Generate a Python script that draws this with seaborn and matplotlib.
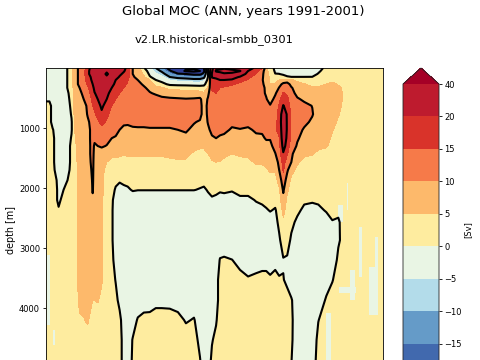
import numpy as np
import matplotlib
matplotlib.use('Agg')
import matplotlib.pyplot as plt
import seaborn as sns

sns.set_theme(style='ticks', rc={'text.color': 'black', 'axes.labelcolor': 'black',
                                 'xtick.color': 'black', 'ytick.color': 'black'})

depth = [0, 50, 100, 150, 200, 270, 330, 420, 520, 630, 770, 900, 1030, 1170, 1300, 1430, 1570, 1700,
         1870, 2030, 2200, 2370, 2570, 2870, 3200, 3530, 3870, 4200, 4530, 4870, 5500]
lat = [-90, -87.9, -86.2, -84.6, -83, -81.4, -79.3, -77.7, -76.1, -74.5, -71.8, -69.6, -67.5, -65.9, -64.8,
       -63.8, -62.1, -60, -57.3, -54.6, -52.5, -50.4, -48.2, -46.1, -43.4, -40.7, -37.5, -34.3, -31.1, -27.9,
       -23.6, -19.3, -15, -10.7, -7.5, -5.4, -3.2, -1.1, 1.1, 3.2, 5.4, 9.6, 13.9, 18.2, 22.5, 25.7, 27.9, 30,
       32.7, 34.8, 37, 39.1, 41.3, 44.5, 48.2, 52.5, 55.7, 60, 63.2, 66.4, 69.6, 72.9, 90]

# streamfunction, one list per latitude, top to bottom [Sv]
moc_columns = [
    [-2]*8 + [-1] + [2]*22,
    [-2]*8 + [-1] + [2]*22,
    [-2]*12 + [0.5] + [2]*18,
    [-2]*17 + [-1, 1] + [2]*12,
    [-2]*21 + [1] + [2]*9,
    [-2]*20 + [1] + [2]*10,
    [-2]*19 + [2]*12,
    [1.5]*7 + [0, -1] + [-2]*8 + [-1, 1] + [2]*12,
    [3]*9 + [2, 0.5, -0.5, -0.5, 0.5] + [2]*17,
    [8]*6 + [7]*4 + [6, 5.5, 5, 4.5, 4, 3.5, 3, 3] + [2]*13,
    [11]*6 + [10, 9, 8.5, 8, 8] + [7]*15 + [6, 4.5, 3, 2, 2],
    [13, 14, 14, 13, 13, 12, 12, 11, 10, 8] + [7]*16 + [6, 4.8, 3.5, 2.5, 2],
    [17, 18, 18, 18, 17, 16, 14, 13, 12, 11, 10.5, 9, 8, 8] + [7]*13 + [5.5, 3.5, 2.5, 2],
    [21, 22, 22, 20, 19, 18, 17, 15.5, 14.5, 13, 12, 11, 10.5, 10.5, 10.5, 10.5, 10, 9.5, 8] + [7]*7 + [6, 4, 3, 2.5, 2],
    [23, 24, 24, 23, 22, 20, 19, 17, 16, 15, 14, 13, 12, 12, 11, 11, 11, 11, 11, 10.5, 9, 8, 7, 7, 7, 6, 5, 4, 3, 2.5, 2],
    [24, 25, 25, 24, 23, 22, 21, 19.8, 18, 16, 14.5, 13, 12, 10.8, 9.5, 9, 8.5, 8] + [7]*7 + [6, 5, 3.5, 3, 2.5, 2],
    [25, 26, 26, 25, 24, 23, 22, 21, 20, 18, 16, 14.5, 13, 11.5, 10, 9, 8, 7.5] + [7]*7 + [6, 5.3, 3, 2.5, 2, 2],
    [26, 27, 27, 26, 25, 24, 23, 23, 22, 21, 19, 16, 14, 12, 10.5, 8, 7, 6.5, 6, 6, 6, 5.8, 5.6, 5.6, 5.6, 5.5, 4, 3, 2, 2, 2],
    [28, 29, 31, 29, 28, 25, 23, 21.5, 20, 18, 16, 14.5, 13, 11.5, 9.8, 7, 5, 3.5, 3, 2.5] + [2]*11,
    [27, 27, 27, 26, 24, 22, 20, 18, 16, 15, 13.5, 13, 11.5, 10, 8, 6, 4, 3, 2, 1.5, 0.6, 0.5, 0.5, 0.5, 1, 1.5, 2, 2, 2, 2, 2],
    [24, 24, 24, 22, 20, 18.5, 17, 16, 15, 14, 13, 12.5, 11.5, 9.5, 8, 6, 4, 2.5, 1, -0.5, -1.5, -2, -2, -2, -1.5, -0.2, 1, 2, 2, 2, 2],
    [22, 22, 21, 19.5, 18, 16.5, 15.5, 15, 14, 13.5, 13, 12, 10, 8.5, 7.5, 5.5, 4, 2.5, 0.5, -1.5, -2, -2, -2, -2, -2, -2, -1, 1, 2, 2, 2],
    [21, 20.5, 19, 18, 17, 16, 15, 14, 13.5, 13, 12, 10.8, 9, 8, 7, 5.3, 3.8, 2.5, 1, -1] + [-2]*11,
    [19, 18, 17.5, 17, 15.5, 14.5, 14, 13.5, 13, 12.5, 11.5, 10.5, 9.2, 8, 7, 5.5, 3.8, 2.5, 1, -0.5] + [-2]*11,
    [10, 10, 10, 10.5, 11, 11.5, 12, 12.5, 12.5, 12, 11, 10.8, 9.5, 8, 7, 5.5, 4, 2.5, 1, 0.3] + [-2]*7 + [-1.5, 0.2, 0.5, 2],
    [7, 7.5, 8, 9, 10, 11, 12, 12.5, 12.5, 12, 11.5, 11, 9.5, 8, 7, 5.5, 4, 2.5, 1, 0.1] + [-2]*7 + [0.3, 1.5, 2, 2],
    [0.5, 3, 4.5, 6, 8, 9.5, 10.5, 11, 11.8, 12, 12, 11, 9.5, 8, 7, 5.5, 4, 2.5, 1, 0.1] + [-2]*6 + [-1, 0.6, 2, 2, 2],
    [-4, -2.5, -1, 0.5, 5, 7, 9, 10.3, 11.5, 12, 12, 11.5, 9.5, 8, 7, 5.5, 4, 2.5, 1, 0.1] + [-2]*6 + [-1.5, 1, 2, 2, 2],
    [-10, -7, -4, -2, 0.05, 3.5, 6.5, 9.5, 11.5, 12, 12, 11.5, 9.5, 8, 7, 5.5, 4, 2.5, 1, 0.1] + [-2]*6 + [-1, 1.5, 2, 2, 2],
    [-15, -11, -7.5, -4, -1.5, 1.5, 5.5, 8.5, 11, 12, 12.5, 11.5, 9.5, 8, 7, 5.5, 4, 2.5, 1, 0.1] + [-2]*6 + [-1, 1.5, 2, 2, 2],
    [-23, -19, -14, -10, -5, -1, 3.5, 7.5, 10.8, 12.5, 13, 11.5, 9.5, 8, 7.5, 6, 4, 2.5, 1, 0.1] + [-2]*6 + [-1.5, 2, 2, 2, 2],
    [-27, -26, -19, -12, -6.5, -1.5, 3.5, 7.5, 10.5, 12.5, 13, 12, 10, 8, 7.5, 6, 4.5, 2.5, 1, 0.1] + [-2]*6 + [-1.5, 1, 2, 2, 2],
    [-29, -31, -20, -13, -7, -1.5, 3, 7, 10.3, 12.5, 13, 12, 10.5, 9, 7.5, 5.8, 4.5, 2.5, 1, 0.1] + [-2]*6 + [-2, -0.3, 1.5, 2, 2],
    [-29, -32, -22, -14, -8, -2, 3, 7, 10.5, 13, 13, 10.3, 9, 8, 6, 4.5, 3.5, 2.5, 1, 0.1] + [-2]*6 + [-1.5, 0.2, 1.5, 2, 2],
    [-28, -30, -22, -14, -8, -2, 2.5, 6.5, 11, 11.5, 11.5, 9.5, 8, 7, 5.5, 4, 3, 2, 1, -0.2] + [-2]*6 + [-2, -1.5, -1, 0.2, 2],
    [-20, -22, -18, -12, -6, -1.5, 2.5, 5.5, 7.5, 8, 8, 7.8, 7.5, 6.5, 5.5, 4, 3, 2, 1, -0.5] + [-2]*11,
    [-0.3, -0.3, -0.3, 0.3, 1.5, 3.5, 5.5, 9, 10.5, 11, 10.8, 10.3, 9.3, 8, 6.5, 5, 3.5, 2.5, 1.2, 0.3, -1] + [-2]*10,
    [17, 19, 20.5, 20.5, 18, 17, 16, 14, 13, 12.5, 12, 11.5, 11, 9.5, 8, 6.5, 4.5, 3, 2, 1, -0.5] + [-2]*6 + [-2, -0.3, 0.8, 2],
    [28, 31, 26, 21, 19, 17.5, 16, 15, 14, 13, 12.5, 12, 11.5, 10, 8.5, 7, 5, 3.5, 2, 0.8, -0.8] + [-2]*6 + [-0.4, 1, 2, 2],
    [28, 32, 27, 23, 20, 17, 15, 14, 13, 13, 12.5, 12, 11, 9.5, 8, 7, 4.7, 3.5, 2, 0.5, -1.5, -2, -2, -2, 0.2] + [2]*6,
    [29, 33, 29, 24, 20, 16.5, 14.5, 13.5, 13, 13, 12.5, 12, 11, 9, 8, 6, 4, 3, 2, 0.5, -1, -2, -2, -1.5, 0.3] + [2]*6,
    [28, 31.5, 29, 22, 19.5, 15.5, 14, 13.5, 13.5, 13, 13, 11, 9.5, 8.5, 7, 5, 4, 3, 2, 0.3, -1.5, -2, -2, -2, 0.05, 1.5] + [2]*5,
    [26, 30.5, 24, 19.5, 16.5, 14, 13, 13, 13, 13, 12.5, 11.5, 9.8, 8.5, 7, 5.5, 4, 3, 2, 1.2, -0.8, -2, -2, -2, -0.8, 0.8] + [2]*5,
    [24, 20, 18, 16, 14.5, 13.5, 13, 13, 13, 13, 12.5, 11, 9.5, 8.5, 7.5, 6, 4, 3, 2, 1.5, -1, -2, -2, -2, -1.5, 0.3] + [2]*5,
    [18, 16.5, 14.8, 13.5, 13, 12.5, 12.5, 12.5, 13, 13, 12.5, 11.5, 10.5, 9.3, 8, 7, 5.5, 3.5, 2.5, 1.5, 0.3, -1.5, -2, -2, -1, 0.5] + [2]*5,
    [15.5, 12, 11, 10.6, 10.3, 10.5, 11, 11, 11.5, 12, 12, 11.5, 10.5, 9.5, 8.5, 7, 5.5, 4, 3, 2, 0.8, -1, -2, -2, -1, 0.8] + [2]*5,
    [7, 7, 7.5, 8, 8.5, 9, 9.3, 9.5, 10.3, 11.5, 12.5, 12.5, 11.5, 10.3, 9, 7.5, 6, 4.5, 3, 2, 1, -0.3, -2, -2, -1, 0.8] + [2]*5,
    [2, 2.5, 3, 3.8, 4.3, 5, 6.5, 7.5, 8.5, 10.3, 11.5, 12.5, 12, 10.3, 9, 8, 6.8, 5.5, 3.5, 2.5, 1.5, 0.2, -1.5, -2, -1.5, 0.5] + [2]*5,
    [-1, -0.5, 0.1, 2, 3.8, 5.3, 6.5, 9.5, 11, 12, 12.5, 13.5, 14.5, 13, 11.5, 9.8, 8, 5.5, 3, 2, 1, -0.3, -1, -2, -1, 1] + [2]*5,
    [-2, -1.5, 0.1, 3, 5, 8, 10.3, 12, 14, 15.5, 17, 17, 16, 14.8, 13.5, 12.5, 11, 10, 7, 4.3, 3, 1.5, 0.7, -0.5, -2, 0.5] + [2]*5,
    [-3, -2.5, -0.8, 2, 6, 11.5, 13.5, 15.3, 17.5, 20.3, 23, 24, 24, 23.5, 22, 19.5, 17, 15.5, 13, 10.7, 8.5, 6.5, 4, 1.5, -0.2, 0.1, 1.5] + [2]*4,
    [-3, -2.5, -1.5, 0.5, 7, 12, 13, 14.5, 16, 18, 19.5, 19.5, 19.5, 19, 18, 15.5, 12.5, 10.8, 8, 5.8, 4, 3, 2, 1, -0.3, -0.5, 0.8] + [2]*4,
    [-3.5, -3, -2, 0.1, 5.5, 8.5, 10.5, 11.5, 12.5, 13, 14, 14.3, 14.3, 13.8, 12.5, 11, 10, 6.5, 4, 3, 2, 1.5, 0.6, -0.4, -1.5, -2, 0.3, 0.6, 0.5, 0.1, -1],
    [-3, -3, -2, 0.1, 4, 6.5, 7.5, 8.8, 10.5, 11.5, 12, 12, 11.5, 10.5, 9.5, 7, 5.5, 4, 3, 2, 1.2, 0.5, -0.5] + [-2]*8,
    [-3, -3, -2, 0.1, 3, 5.3, 6.5, 7.5, 9.3, 11, 11.5, 11, 9.5, 8.5, 7.5, 5.6, 4, 3, 2, 1.2, 0.4, -0.5] + [-2]*9,
    [-2.5, -2.5, -1.5, 0.1, 2, 4, 5.3, 7, 8.5, 9.9, 10.3, 9.3, 8.5, 7.5, 6.5, 5.2, 4, 3, 2, 1, 0.3, -0.8] + [-2]*9,
    [-1.5, -0.8, 0.3, 1.5, 2.5, 4, 5.5, 6.5, 7.5, 8, 8, 7.5, 7, 6.5, 5.5, 4.5, 3.5, 3, 2, 1, 0.4, -0.5] + [-2]*5 + [-0.1, 0.8, 1.5, 2],
    [1, 2, 3, 3.5, 4, 5, 6, 6.5, 7, 7, 7, 7, 6.5, 6, 5.3, 4, 3.5, 3, 2.5, 1.5, 1, 0.2, -1, -2, -2, -1.5, 0.4, 1.5, 2, 2, 2],
    [2, 2.5, 3, 3.5, 4.5, 5.5, 6.5, 6.5, 6.5, 6.5, 6.5, 6, 5.2, 4.5, 4, 3.5, 3, 2.5, 2, 1.5, 1, 0.5, -0.1, -1.5, -1.5, -0.2, 1.5, 2, 2, 2, 2],
    [2, 2, 2.5, 3, 3.5, 4.8, 5.5, 5.8, 5.8, 5.5, 5.2, 4.6, 4, 3.5, 3, 3, 2.5, 2.5, 2, 1.5, 1, 0.5, -0.3, -0.3, 0.5, 1.5, 2, 2, 2, 2, 2],
    [2, 2, 2, 2.5, 3, 3.5, 4.5, 4.6, 4.6, 4.5, 4, 3.5, 3, 3, 2.5, 2.5, 2, 2, 2, 1.5, 1.5, 1, 1, 0.8, 1, 2, 2, 2, 2, 2, 2],
    [2]*31,
    [2]*31,
]

# thin patches of weak negative values in the deep ocean, they have no contour line
patch_lat = [-88.4, -85.4, 61.1, 71.3, 67.5, 74, 78.2, 85.2, 86.8, 71.3]
patch_width = [1.2, 1.2, 2.8, 9, 2.5, 3, 1.5, 4.5, 1.2, 0.8]
patch_top = [3120, 4370, 4080, 3650, 2280, 3370, 2650, 3320, 2820, 1920]
patch_bottom = [4280, 4620, 4870, 3750, 2570, 3870, 3480, 4120, 3320, 2370]

fill_levels = [-20, -15, -10, -5, 0, 5, 10, 15, 20, 40]
line_levels = [-40, -30, -20, -10, 0, 10, 20, 30, 40]
band_colors = ['#2f3f96', '#4169ae', '#659bc8', '#b3dcea', '#e9f5e4', '#feec9f',
               '#fdb96b', '#f67a49', '#d9332a', '#be1b2e', '#a50026']
yticks = [1000, 2000, 3000, 4000]
cbar_ticks = [-15, -10, -5, 0, 5, 10, 15, 20, 40]

moc = np.array(moc_columns).T
palette = sns.color_palette(band_colors)

fig = plt.figure(figsize=(4.8, 3.6), dpi=100)
ax = fig.add_axes([45.5/480, -32/360, 337/480, 324/360])
cf = ax.contourf(lat, depth, moc, levels=fill_levels, colors=palette, extend='both')
ax.bar(patch_lat, np.array(patch_bottom) - np.array(patch_top), width=patch_width, bottom=patch_top,
       color=palette[4], linewidth=0, zorder=1.5)
ax.contour(lat, depth, moc, levels=line_levels, colors='black', linewidths=1.5, linestyles='solid', zorder=2)
ax.set_xlim(-90, 90)
ax.set_ylim(5400, 0)
ax.set_yticks(yticks)
ax.set_xticks([])
ax.set_ylabel('depth [m]', fontsize=6.9, labelpad=2)
ax.tick_params(axis='y', labelsize=6, length=2.2, width=0.6, pad=1.8, color='black')
for spine in ax.spines.values():
    spine.set_linewidth(0.6)
    spine.set_color('black')

# full height of the bar with both triangles
cax = fig.add_axes([403/480, -32/360, 36/480, 324/360])
cb = fig.colorbar(cf, cax=cax, spacing='uniform', ticks=cbar_ticks, extendfrac=0.0548)
cb.set_label('[Sv]', fontsize=6, labelpad=1)
cb.ax.tick_params(labelsize=6, length=2.2, width=0.6, pad=1.8)
cb.outline.set_linewidth(0.6)

fig.text(243.5/480, 1 - 12/360, 'Global MOC (ANN, years 1991-2001)', ha='center', va='center', fontsize=9.5)
fig.text(214/480, 1 - 40/360, 'v2.LR.historical-smbb_0301', ha='center', va='center', fontsize=8.25)

fig.savefig('out.png', dpi=100)
